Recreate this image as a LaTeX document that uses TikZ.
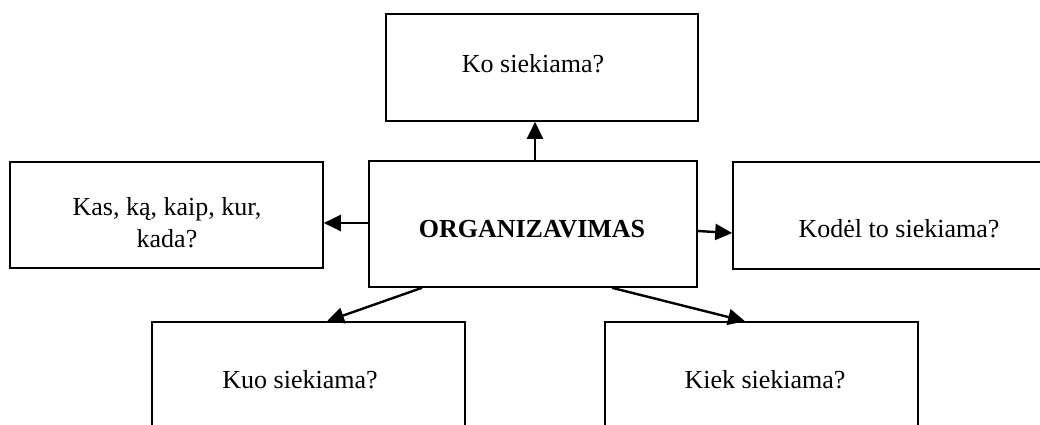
\documentclass[tikz,border=0pt]{standalone}
\usepackage{fontspec}
\setmainfont{Liberation Serif}
\usetikzlibrary{arrows.meta}
\begin{document}
\begin{tikzpicture}[x=1pt,y=-1pt,
  box/.style={draw=black,line width=1.6pt,rectangle,inner sep=0pt},
  lbl/.style={font=\fontsize{26}{32}\selectfont,inner sep=0pt,anchor=base,align=center},
  arr/.style={line width=2.4pt,-{Triangle[length=17pt,width=16pt]}}]
\useasboundingbox (0,0) rectangle (1040,424);
\clip (0,0) rectangle (1040,424);
% boxes, given by their corners
\node[box,minimum width=312pt,minimum height=107pt] (top) at (542,67.5) {};
\node[box,minimum width=313pt,minimum height=106pt] (lft) at (166.5,215) {};
\node[box,minimum width=328pt,minimum height=126pt] (ctr) at (533,224) {};
\node[box,minimum width=317pt,minimum height=107pt] (rgt) at (891.5,215.5) {};
\node[box,minimum width=313pt,minimum height=118pt] (bl) at (308.5,381) {};
\node[box,minimum width=313pt,minimum height=118pt] (br) at (761.5,381) {};
% labels
\node[lbl] (ttop) at (533,72) {Ko siekiama?};
\node[lbl] (tlft) at (167,247) {Kas, ką, kaip, kur,\\kada?};
\node[lbl,font=\fontsize{26}{32}\selectfont\bfseries] (tctr) at (532,237) {ORGANIZAVIMAS};
\node[lbl] (trgt) at (899,237) {Kodėl to siekiama?};
\node[lbl] (tbl) at (300,388) {Kuo siekiama?};
\node[lbl] (tbr) at (765,388) {Kiek siekiama?};
% connectors
\draw[arr] ([xshift=2pt]ctr.north) -- ([xshift=-7pt]top.south);
\draw[arr] ([yshift=1pt]ctr.west) -- ([yshift=1pt]ctr.west -| lft.east);
\draw[arr] ([yshift=-7pt]ctr.east) -- ([yshift=-17.5pt]rgt.west);
\draw[arr] ([xshift=-111pt]ctr.south) -- ([xshift=18.5pt]bl.north);
\draw[arr] ([xshift=79pt]ctr.south) -- ([xshift=-16.5pt]br.north);
\end{tikzpicture}
\end{document}
